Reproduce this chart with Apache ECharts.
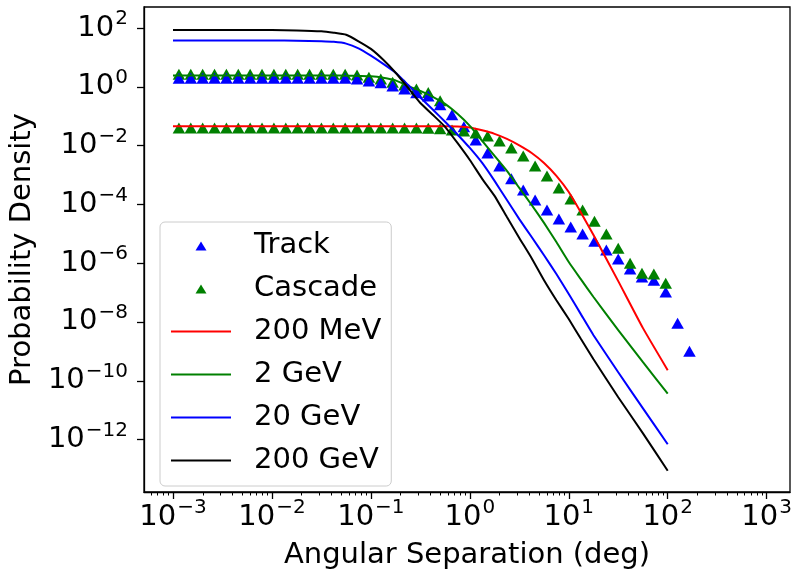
<!DOCTYPE html>
<html>
<head>
<meta charset="utf-8">
<script src="https://cdn.jsdelivr.net/npm/echarts@6/dist/echarts.min.js"></script>
<style>
  html, body { margin: 0; padding: 0; background: #fff; }
  #chart { width: 792px; height: 572px; }
</style>
</head>
<body>
<div id="chart"></div>
<script>
// both axes are logarithmic: every number below is log10 of the plotted value
const markerLogX = [-2.94, -2.82, -2.70, -2.58, -2.46, -2.34, -2.22, -2.10, -1.98, -1.86,
  -1.74, -1.62, -1.50, -1.38, -1.26, -1.14, -1.02, -0.90, -0.78, -0.66,
  -0.54, -0.42, -0.30, -0.18, -0.06, 0.06, 0.18, 0.30, 0.42, 0.54,
  0.66, 0.78, 0.90, 1.02, 1.14, 1.26, 1.38, 1.50, 1.62, 1.74,
  1.86, 1.98, 2.10, 2.22]
const trackLogY = [0.29, 0.29, 0.29, 0.29, 0.29, 0.29, 0.29, 0.29, 0.29, 0.29,
  0.29, 0.29, 0.29, 0.29, 0.29, 0.27, 0.20, 0.14, 0.03, -0.07,
  -0.20, -0.31, -0.61, -0.95, -1.36, -1.81, -2.25, -2.69, -3.13, -3.51,
  -3.85, -4.19, -4.50, -4.77, -5.01, -5.25, -5.55, -5.86, -6.20, -6.47,
  -6.58, -6.98, -8.04, -9.00]
const cascadeLogY = [-1.40, -1.40, -1.40, -1.40, -1.40, -1.40, -1.40, -1.40, -1.40, -1.40,
  -1.40, -1.40, -1.40, -1.40, -1.40, -1.40, -1.40, -1.40, -1.40, -1.40,
  -1.40, -1.41, -1.43, -1.47, -1.50, -1.57, -1.67, -1.84, -2.08, -2.35,
  -2.69, -3.03, -3.44, -3.82, -4.19, -4.57, -5.01, -5.49, -6.00, -6.34,
  -6.37, -6.68]
// second cascade row, mostly hidden behind the track points
const cascadeUpperLogY = [0.43, 0.43, 0.43, 0.43, 0.43, 0.43, 0.43, 0.43, 0.43, 0.43,
  0.43, 0.43, 0.43, 0.43, 0.43, 0.40, 0.33, 0.27, 0.16, 0.06,
  -0.07, -0.19, -0.47]

const curveLogX = [-3, -2.5, -2, -1.75, -1.5, -1.375, -1.25, -1.125, -1, -0.875,
  -0.75, -0.625, -0.5, -0.375, -0.25, -0.125, 0, 0.125, 0.25, 0.375,
  0.5, 0.625, 0.75, 0.875, 1, 1.125, 1.25, 1.5, 1.75, 2]
const mev200LogY = [-1.34, -1.34, -1.34, -1.34, -1.34, -1.34, -1.34, -1.34, -1.34, -1.34,
  -1.34, -1.34, -1.34, -1.34, -1.34, -1.35, -1.38, -1.48, -1.60, -1.77,
  -1.99, -2.25, -2.59, -3.03, -3.58, -4.29, -5.04, -6.61, -8.21, -9.64]
const gev2LogY = [0.385, 0.385, 0.385, 0.385, 0.385, 0.385, 0.38, 0.37, 0.36, 0.31,
  0.22, 0.03, -0.14, -0.34, -0.58, -0.92, -1.33, -1.84, -2.35, -2.86,
  -3.44, -4.02, -4.63, -5.28, -5.96, -6.56, -7.15, -8.28, -9.37, -10.44]
const gev20LogY = [1.58, 1.58, 1.58, 1.57, 1.55, 1.53, 1.47, 1.31, 1.06, 0.78,
  0.48, 0.07, -0.36, -0.77, -1.19, -1.62, -2.08, -2.59, -3.20, -3.85,
  -4.50, -5.11, -5.73, -6.37, -7.05, -7.75, -8.45, -9.71, -10.94, -12.16]
const gev200LogY = [1.93, 1.93, 1.93, 1.92, 1.89, 1.84, 1.77, 1.55, 1.29, 0.92,
  0.48, -0.03, -0.55, -0.95, -1.36, -1.91, -2.49, -3.13, -3.71, -4.43,
  -5.14, -5.83, -6.58, -7.26, -7.90, -8.59, -9.27, -10.56, -11.79, -13.06]

const xTickExp = [-3, -2, -1, 0, 1, 2, 3]
const yTickExp = [-12, -10, -8, -6, -4, -2, 0, 2]
const minorMult = [2, 3, 4, 5, 6, 7, 8, 9]

const xMin = -3.293, xMax = 3.236
const yMin = -13.785, yMax = 2.716
const FONT = 'DejaVu Sans'

const minorTickExp = []
for (let d = -4; d <= 3; d++) {
  minorMult.forEach(m => {
    const v = d + Math.log10(m)
    if (v > xMin && v < xMax) minorTickExp.push(v)
  })
}

const pairs = (xs, ys) => ys.map((y, i) => [xs[i], y])

function powLabel(v) {
  const n = Math.round(v)
  return '{b|10}{s|' + (n < 0 ? '\u2212' + (-n) : n) + '}'
}

const tickRich = {
  b: { fontSize: 29, fontFamily: FONT, color: '#000', lineHeight: 34 },
  s: { fontSize: 20, fontFamily: FONT, color: '#000', lineHeight: 20, padding: [0, 0, 18, 1] }
}
const axisLine = { show: true, onZero: false, lineStyle: { color: '#000', width: 1.3 } }
const majorTick = { show: true, inside: false, length: 7, lineStyle: { color: '#000', width: 1.3 } }

// small triangle centred in a 60 px wide legend slot
const legendTriangle = 'path://M0,0 M60,10 M24.5,10 L30,1 L35.5,10 Z'

function markerSeries(name, color, data, z) {
  return {
    name, type: 'scatter', data, z,
    symbol: 'triangle', symbolSize: [12.5, 11],
    itemStyle: { color, opacity: 1 },
    emphasis: { disabled: true }
  }
}
function curveSeries(name, color, ys) {
  return {
    name, type: 'line', data: pairs(curveLogX, ys), z: 5,
    symbol: 'none', smooth: 0.15,
    lineStyle: { color, width: 2 }, itemStyle: { color },
    emphasis: { disabled: true }
  }
}

const chart = echarts.init(document.getElementById('chart'), null, { renderer: 'canvas' })
chart.setOption({
  animation: false,
  backgroundColor: '#fff',
  grid: {
    left: 144, right: 2, top: 7, bottom: 80,
    show: true, borderColor: '#000', borderWidth: 1.3,
    outerBoundsMode: 'none'
  },
  legend: {
    data: [
      { name: 'Track', icon: legendTriangle },
      { name: 'Cascade', icon: legendTriangle },
      { name: '200 MeV', itemStyle: { opacity: 0 } },
      { name: '2 GeV', itemStyle: { opacity: 0 } },
      { name: '20 GeV', itemStyle: { opacity: 0 } },
      { name: '200 GeV', itemStyle: { opacity: 0 } }
    ],
    orient: 'vertical', left: 160, top: 222,
    itemWidth: 60, itemHeight: 10, itemGap: 14,
    padding: [9, 10, 11, 10],
    backgroundColor: 'rgba(255,255,255,0.8)',
    borderColor: '#cccccc', borderWidth: 1, borderRadius: 5,
    textStyle: { fontSize: 29, fontFamily: FONT, color: '#000', lineHeight: 27, padding: [0, 0, 0, 18] }
  },
  xAxis: [{
    type: 'value', min: xMin, max: xMax,
    name: 'Angular Separation (deg)', nameLocation: 'middle', nameGap: 48,
    nameTextStyle: { fontSize: 29, fontFamily: FONT, color: '#000' },
    axisLine, axisTick: { ...majorTick, customValues: xTickExp },
    axisLabel: { customValues: xTickExp, margin: 8, formatter: powLabel, rich: tickRich },
    splitLine: { show: false }
  }, {
    type: 'value', min: xMin, max: xMax, position: 'bottom',
    axisLine: { show: false, onZero: false },
    axisTick: { show: true, inside: false, length: 3.5, customValues: minorTickExp, lineStyle: { color: '#000', width: 1 } },
    axisLabel: { show: false },
    splitLine: { show: false }
  }],
  yAxis: {
    type: 'value', min: yMin, max: yMax,
    name: 'Probability Density', nameLocation: 'middle', nameGap: 93, nameRotate: 90,
    nameTextStyle: { fontSize: 29, fontFamily: FONT, color: '#000' },
    axisLine, axisTick: { ...majorTick, customValues: yTickExp },
    axisLabel: { customValues: yTickExp, margin: 16, formatter: powLabel, rich: tickRich },
    splitLine: { show: false }
  },
  series: [
    markerSeries('Cascade', '#008000', pairs(markerLogX, cascadeUpperLogY), 2),
    markerSeries('Track', '#0000ff', pairs(markerLogX, trackLogY), 3),
    markerSeries('Cascade', '#008000', pairs(markerLogX, cascadeLogY), 4),
    curveSeries('200 MeV', '#ff0000', mev200LogY),
    curveSeries('2 GeV', '#008000', gev2LogY),
    curveSeries('20 GeV', '#0000ff', gev20LogY),
    curveSeries('200 GeV', '#000000', gev200LogY)
  ]
})
</script>
</body>
</html>
